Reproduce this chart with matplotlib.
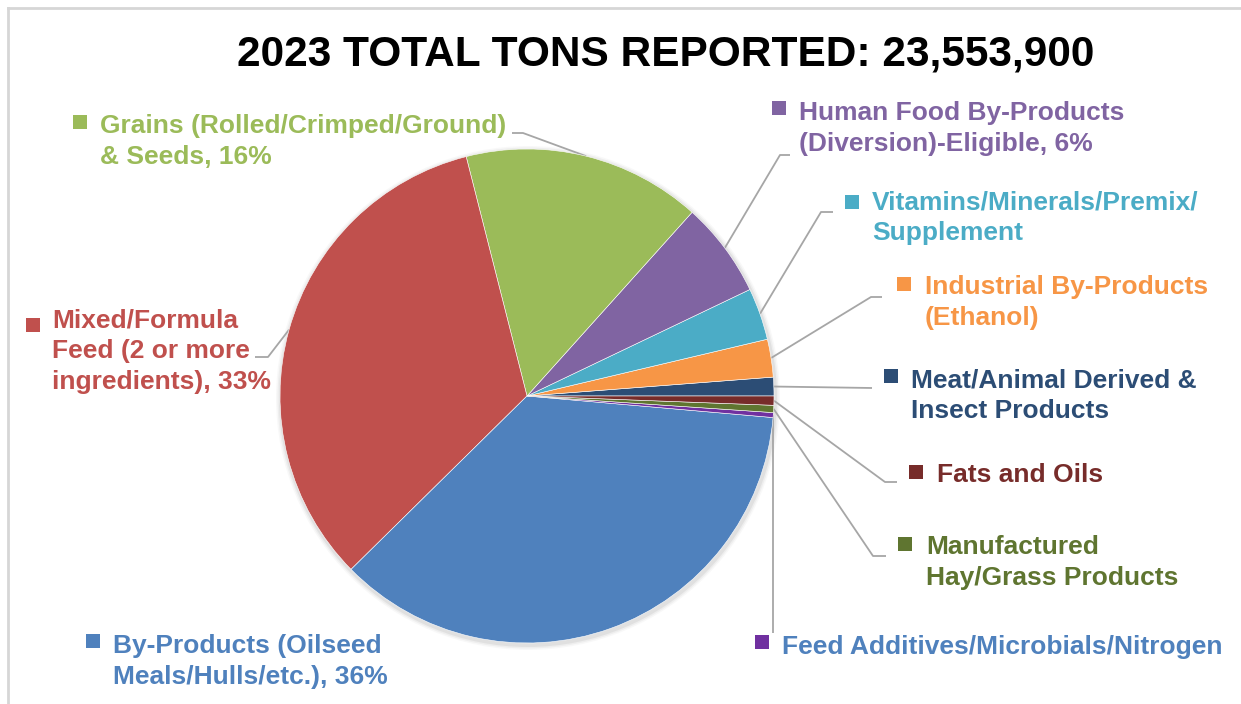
import matplotlib
matplotlib.use("Agg")
import matplotlib.pyplot as plt
from matplotlib.patches import Rectangle, Circle
import numpy as np

# ---- data (counter-clockwise order from 3 o'clock) ----
categories = ["Meat/Animal Derived & Insect Products",
              "Industrial By-Products (Ethanol)",
              "Vitamins/Minerals/Premix/Supplement",
              "Human Food By-Products (Diversion)-Eligible",
              "Grains (Rolled/Crimped/Ground) & Seeds",
              "Mixed/Formula Feed (2 or more ingredients)",
              "By-Products (Oilseed Meals/Hulls/etc.)",
              "Feed Additives/Microbials/Nitrogen",
              "Manufactured Hay/Grass Products",
              "Fats and Oils"]
shares = [1.22, 2.47, 3.4, 6.25, 15.6, 33.4, 36.2, 0.32, 0.47, 0.6]
slice_colors = ["#2C4D75", "#F79646", "#4BACC6", "#8064A2", "#9BBB59",
                "#C0504D", "#4F81BD", "#7030A0", "#5F7530", "#772C2A"]
label_lines = [["Meat/Animal Derived &", "Insect Products"],
               ["Industrial By-Products", "(Ethanol)"],
               ["Vitamins/Minerals/Premix/", "Supplement"],
               ["Human Food By-Products", "(Diversion)-Eligible, 6%"],
               ["Grains (Rolled/Crimped/Ground)", "& Seeds, 16%"],
               ["Mixed/Formula", "Feed (2 or more", "ingredients), 33%"],
               ["By-Products (Oilseed", "Meals/Hulls/etc.), 36%"],
               ["Feed Additives/Microbials/Nitrogen"],
               ["Manufactured", "Hay/Grass Products"],
               ["Fats and Oils"]]
text_colors = ["#2C4D75", "#F79646", "#4BACC6", "#8064A2", "#9BBB59",
               "#C0504D", "#4F81BD", "#4F81BD", "#5F7530", "#772C2A"]
title = "2023 TOTAL TONS REPORTED: 23,553,900"

# ---- layout (pixel coordinates, y measured from the top) ----
W, H = 1241, 704
CX, CY, R = 527, 396, 247
# text left x, first baseline y, marker left x, marker top y
label_pos = [(911, 387, 884, 369),
             (925, 294, 897, 277),
             (872, 209, 845, 195),
             (799, 120, 772, 101),
             (100, 133, 73, 115),
             (52, 327, 26, 318),
             (113, 653, 86, 634),
             (782, 654, 755, 635),
             (926, 554, 898, 537),
             (937, 482, 909, 465)]
# leader elbow and end (None = no leader); "v" = vertical line down to y
leaders = [[(872, 388)],
           [(871, 297), (882, 297)],
           [(821, 212), (833, 212)],
           [(780, 155), (790, 155)],
           [(523, 133), (512, 133)],
           [(268, 357), (255, 357)],
           None,
           "v633",
           [(873, 556), (886, 556)],
           [(885, 482), (897, 482)]]
line_step = 31
MS = 14

plt.rcParams['font.family'] = ['Liberation Sans', 'DejaVu Sans']
fig = plt.figure(figsize=(W / 100, H / 100), dpi=100)
ax = fig.add_axes([0, 0, 1, 1])

def py(y):
    return H - y

# soft shadow behind the pie
for k, a in [(5, 0.05), (3.5, 0.08), (2, 0.12)]:
    ax.add_patch(Circle((CX + 1, py(CY) - 2), R + k, color="#808080", alpha=a,
                        lw=0, zorder=0))

wedges, _ = ax.pie(shares, colors=slice_colors, startangle=0, counterclock=True,
                   center=(CX, py(CY)), radius=R,
                   wedgeprops=dict(edgecolor="white", linewidth=0.4))
for w in wedges:
    w.set_zorder(2)

lead_col = "#A6A6A6"
for i, w in enumerate(wedges):
    mid = np.deg2rad((w.theta1 + w.theta2) / 2)
    ex, ey = CX + R * np.cos(mid), py(CY) + R * np.sin(mid)
    ld = leaders[i]
    if ld is None:
        pass
    elif isinstance(ld, str):
        yend = float(ld[1:])
        ax.plot([ex, ex], [ey, py(yend)], color=lead_col, lw=1.3, zorder=1,
                solid_capstyle="butt")
    else:
        xs = [ex] + [p[0] for p in ld]
        ys = [ey] + [py(p[1]) for p in ld]
        ax.plot(xs, ys, color=lead_col, lw=1.3, zorder=1, solid_capstyle="butt")

    tx, ty, mx, my = label_pos[i]
    mcol = slice_colors[i]
    ax.add_patch(Rectangle((mx, py(my) - MS), MS, MS, color=mcol, lw=0, zorder=3))
    for j, line in enumerate(label_lines[i]):
        ax.text(tx, py(ty + j * line_step), line, color=text_colors[i],
                fontsize=19, fontweight="bold", ha="left", va="baseline", zorder=4)

ax.text(666, py(65), title, fontsize=30.5, fontweight="bold", color="black",
        ha="center", va="baseline")

# screenshot frame lines
ax.plot([8, W], [py(8), py(8)], color="#D6D6D6", lw=2)
ax.plot([8, 8], [py(8), 0], color="#D6D6D6", lw=2)

ax.set_xlim(0, W)
ax.set_ylim(0, H)
ax.set_aspect("equal")
ax.axis("off")
fig.savefig("out.png", dpi=100)
